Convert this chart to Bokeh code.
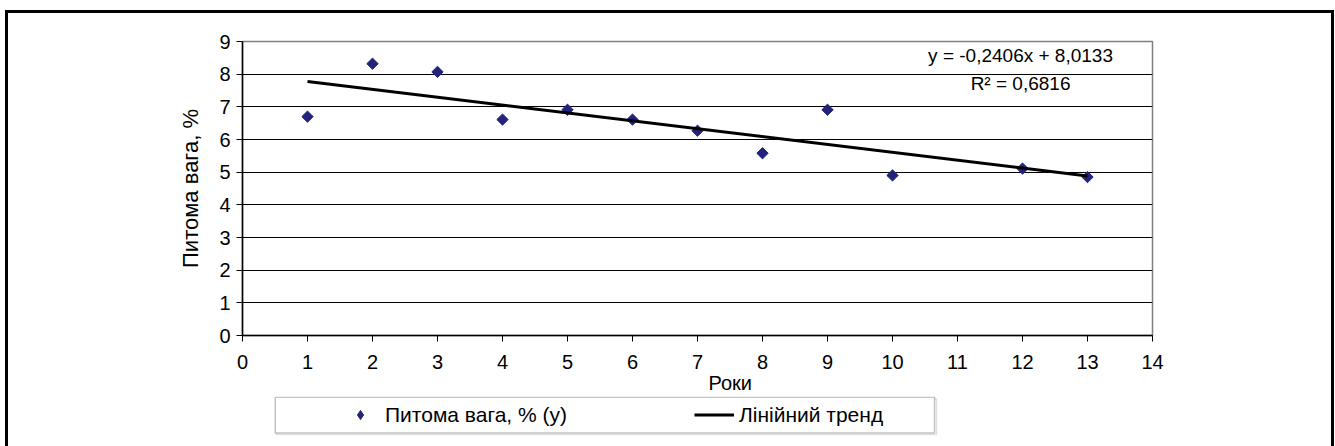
import math
from bokeh.plotting import figure
from bokeh.layouts import column
from bokeh.models import Range1d, FixedTicker, Legend, LegendItem, Label, Title, BoxAnnotation
from bokeh.embed import file_html
from bokeh.resources import INLINE

# ---- data ----
years = [1, 2, 3, 4, 5, 6, 7, 8, 9, 10, 12, 13]
share = [6.70, 8.32, 8.07, 6.61, 6.91, 6.61, 6.27, 5.58, 6.91, 4.90, 5.11, 4.85]
trend_slope = -0.2406
trend_intercept = 8.0133
r_squared = 0.6816
x_ticks = [0, 1, 2, 3, 4, 5, 6, 7, 8, 9, 10, 11, 12, 13, 14]
y_ticks = [0, 1, 2, 3, 4, 5, 6, 7, 8, 9]
series_label = "Питома вага, % (у)"
trend_label = "Лінійний тренд"
x_title = "Роки"
y_title = "Питома вага, %"

FONT = "Liberation Sans"
NAVY = "#23237a"

trend_x = [min(years), max(years)]
trend_y = [trend_slope * x + trend_intercept for x in trend_x]
eq_text = ("y = %.4fx + %.4f" % (trend_slope, trend_intercept)).replace(".", ",")
r2_text = ("R² = %.4f" % r_squared).replace(".", ",")

W = 1323
H1, H2 = 383, 50

# ---------------- main chart ----------------
p = figure(width=W, height=H1, output_backend="svg", toolbar_location=None, title=None,
           x_range=Range1d(x_ticks[0], x_ticks[-1]), y_range=Range1d(y_ticks[0], y_ticks[-1]),
           min_border_left=234, min_border_right=179, min_border_top=28, min_border_bottom=61,
           background_fill_color="white", border_fill_color="white")

for ax in (p.xaxis[0], p.yaxis[0]):
    ax.axis_line_color = "black"
    ax.axis_line_width = 1.5
    ax.major_tick_line_color = "black"
    ax.major_tick_line_width = 1
    ax.major_tick_out = 6
    ax.major_tick_in = 0
    ax.minor_tick_out = 0
    ax.minor_tick_in = 0
    ax.major_label_text_font = FONT
    ax.major_label_text_font_size = "20px"
    ax.major_label_text_color = "black"
    ax.axis_label_text_font = FONT
    ax.axis_label_text_font_size = "22px"
    ax.axis_label_text_font_style = "normal"
    ax.axis_label_text_color = "black"

p.xaxis[0].ticker = FixedTicker(ticks=x_ticks)
p.yaxis[0].ticker = FixedTicker(ticks=y_ticks)
p.xaxis[0].major_label_standoff = 13
p.yaxis[0].major_label_standoff = 6
p.yaxis[0].axis_label = y_title
p.yaxis[0].axis_label_standoff = 13

p.xgrid.visible = False
p.ygrid.ticker = FixedTicker(ticks=y_ticks[1:-1])
p.ygrid.grid_line_color = "black"
p.ygrid.grid_line_width = 1
p.outline_line_color = "#808080"
p.outline_line_width = 1.5

sc = p.scatter(years, share, marker="square", size=8, angle=math.pi / 4,
               fill_color=NAVY, line_color=NAVY)
ln = p.line(trend_x, trend_y, line_color="black", line_width=3)

p.add_layout(Label(x=11.97, y=8.57, text=eq_text, text_align="center", text_baseline="middle",
                   text_font=FONT, text_font_size="19px", text_color="black"))
p.add_layout(Label(x=11.97, y=7.71, text=r2_text, text_align="center", text_baseline="middle",
                   text_font=FONT, text_font_size="19px", text_color="black"))

# x-axis title (placed left of centre like the original)
p.add_layout(Title(text=x_title, align="left", offset=466, standoff=-4,
                   text_font=FONT, text_font_size="20px", text_font_style="normal",
                   text_color="black"), "below")

# ---------------- legend strip ----------------
q = figure(width=W, height=H2, output_backend="svg", toolbar_location=None, title=None,
           x_axis_location=None, y_axis_location=None,
           x_range=Range1d(0, 1), y_range=Range1d(0, 1),
           min_border_left=0, min_border_right=0, min_border_top=0, min_border_bottom=0,
           background_fill_color="white", border_fill_color="white")
q.grid.visible = False
q.outline_line_color = None
# same series, kept outside this strip's visible range: they only feed the legend samples
q_sc = q.scatter(years, share, marker="diamond", size=11,
                 fill_color=NAVY, line_color=NAVY)
q_ln = q.line(trend_x, trend_y, line_color="black", line_width=3)

box_kw = dict(left_units="canvas", right_units="canvas", top_units="canvas", bottom_units="canvas")
q.add_layout(BoxAnnotation(left=268, right=928, top=2.5, bottom=38, fill_alpha=0,
                           line_color="#9a9a9a", line_width=1.5, **box_kw))
q.add_layout(BoxAnnotation(left=266.75, right=926, top=0.75, bottom=36.5,
                           fill_color="white", fill_alpha=1,
                           line_color="#404040", line_width=1.5, **box_kw))
legend = Legend(items=[LegendItem(label=series_label, renderers=[q_sc]),
                       LegendItem(label=trend_label, renderers=[q_ln])],
                location=(98, 19.5), orientation="horizontal", padding=0, margin=0,
                glyph_width=40, glyph_height=23, label_height=23, label_width=0,
                label_standoff=5, spacing=127,
                border_line_alpha=0, background_fill_alpha=0,
                label_text_font=FONT, label_text_font_size="21px", label_text_color="black")
q.add_layout(legend, "center")

page = column(p, q, spacing=0,
              styles={"margin-left": "5px", "margin-top": "10px",
                      "border-left": "3px solid black", "border-top": "3px solid black",
                      "border-right": "3px solid black"})

open("out.html", "w").write(file_html(page, INLINE))
